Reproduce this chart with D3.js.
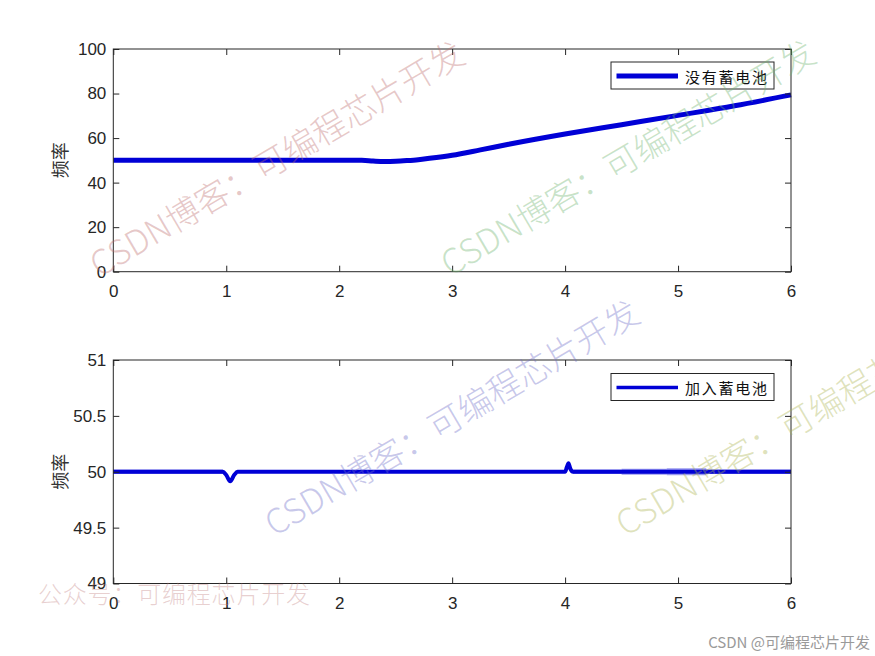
<!DOCTYPE html>
<html><head><meta charset="utf-8">
<script src="https://cdn.jsdelivr.net/npm/d3@7"></script>
<style>body{margin:0;background:#fff}svg{display:block}</style>
</head><body><svg id="c" width="875" height="656"></svg>
<script>
// ---- data ----
const xTicks = [0, 1, 2, 3, 4, 5, 6];
const topYTicks = [0, 20, 40, 60, 80, 100];
const bottomYTicks = [49, 49.5, 50, 50.5, 51];
const bottomYTickLabels = ["49", "49.5", "50", "50.5", "51"];
const yLabel = "频率";
const topLegend = "没有蓄电池";
const bottomLegend = "加入蓄电池";

// top: without battery
const topTime = [0, 2.2, 2.3, 2.4, 2.5, 2.6, 2.7, 2.8, 3.0, 3.25, 3.5, 4.0, 4.5, 5.0, 5.5, 6.0];
const topFreq = [50, 50, 49.7, 49.5, 49.6, 49.9, 50.3, 50.9, 52.3, 54.7, 57.2, 61.8, 66.0, 70.2, 74.5, 79.4];

// bottom: with battery (centre line)
const bottomTime = [0, 0.97, 1.0, 1.035, 1.07, 1.1, 4.0, 4.015, 4.03, 4.045, 4.07, 6.0];
const bottomFreq = [50, 50, 49.97, 49.915, 49.97, 50, 50, 50.04, 50.075, 50.03, 50, 50];
// bottom: ripple envelope segments (start, end, half-amplitude)
const rippleStart = [0, 4.07, 4.5, 4.9, 5.25];
const rippleEnd = [0.97, 4.5, 4.9, 5.25, 6.0];
const rippleAmp = [0.02, 0.02, 0.026, 0.032, 0.02];

// ---- layout ----
const svg = d3.select("#c");
const L = 113.3, R = 791;
const lineColor = "#0000d6";
const axisColor = "#262626";
const tickFont = "'Liberation Sans', Arial, sans-serif";
const cjkFont = "'Noto Sans CJK SC', sans-serif";

function panel(cfg) {
  const x = d3.scaleLinear().domain([0, 6]).range([L, R]);
  const y = d3.scaleLinear().domain(cfg.ydom).range([cfg.bottom, cfg.top]);
  const g = svg.append("g");

  // series
  if (cfg.ripple) {
    const area = d3.area().x(d => x(d[0])).y0(d => y(50 - d[1])).y1(d => y(50 + d[1]));
    cfg.ripple.forEach(r => {
      g.append("path").attr("d", area([[r[0], r[2]], [r[1], r[2]]]))
        .attr("fill", lineColor).attr("fill-opacity", 0.4);
    });
  }
  const line = d3.line().x((d, i) => x(cfg.t[i])).y(d => y(d)).curve(d3.curveMonotoneX);
  g.append("path").attr("d", line(cfg.v)).attr("fill", "none").attr("stroke", lineColor)
    .attr("stroke-width", cfg.lw).attr("stroke-linejoin", "round");

  // axes
  const ax = (gen, tr) => {
    const a = g.append("g").attr("transform", tr).call(gen);
    a.select(".domain").remove();
    a.selectAll("line").attr("stroke", axisColor);
    a.selectAll("text").attr("fill", axisColor).attr("font-family", tickFont).attr("font-size", 17);
    return a;
  };
  ax(d3.axisBottom(x).tickValues(xTicks).tickFormat(d3.format("d")).tickSize(-6).tickPadding(13.5), `translate(0,${cfg.bottom})`);
  ax(d3.axisTop(x).tickValues(xTicks).tickFormat("").tickSize(-6), `translate(0,${cfg.top})`);
  ax(d3.axisLeft(y).tickValues(cfg.yticks).tickFormat((d, i) => cfg.ylabels[i]).tickSize(-6).tickPadding(7), `translate(${L},0)`);
  ax(d3.axisRight(y).tickValues(cfg.yticks).tickFormat("").tickSize(-6), `translate(${R},0)`);

  g.append("rect").attr("x", L).attr("y", cfg.top).attr("width", R - L).attr("height", cfg.bottom - cfg.top)
    .attr("fill", "none").attr("stroke", axisColor).attr("stroke-width", 1);

  // y label
  const cy = (cfg.top + cfg.bottom) / 2;
  g.append("text").attr("transform", `translate(59,${cy}) rotate(-90)`)
    .attr("text-anchor", "middle").attr("dominant-baseline", "central")
    .attr("font-family", cjkFont).attr("font-size", 18).attr("fill", "#333").text(yLabel);

  // legend
  const lg = g.append("g");
  lg.append("rect").attr("x", 611).attr("y", cfg.legY).attr("width", 163).attr("height", 27)
    .attr("fill", "#fff").attr("stroke", axisColor).attr("stroke-width", 1);
  lg.append("line").attr("x1", 616.5).attr("x2", 678).attr("y1", cfg.legY + 14).attr("y2", cfg.legY + 14)
    .attr("stroke", lineColor).attr("stroke-width", cfg.legLw);
  lg.append("text").attr("x", 685).attr("y", cfg.legY + 14).attr("dominant-baseline", "central")
    .attr("font-family", cjkFont).attr("font-size", 15).attr("textLength", 82).attr("fill", "#111")
    .text(cfg.legend);
}

panel({ ydom: [0, 100], top: 49, bottom: 271.7, yticks: topYTicks, ylabels: topYTicks.map(String),
  t: topTime, v: topFreq, lw: 5, legY: 62, legLw: 5, legend: topLegend });
panel({ ydom: [49, 51], top: 360, bottom: 583.5, yticks: bottomYTicks, ylabels: bottomYTickLabels,
  t: bottomTime, v: bottomFreq, lw: 4, legY: 373.5, legLw: 3.5, legend: bottomLegend,
  ripple: rippleStart.map((s, i) => [s, rippleEnd[i], rippleAmp[i]]) });

// ---- watermarks ----
const wmText = "CSDN博客：可编程芯片开发";
const marks = [
  { cx: 276, cy: 157, c: "rgba(190,110,110,0.38)" },
  { cx: 627, cy: 156, c: "rgba(110,180,110,0.38)" },
  { cx: 451, cy: 416, c: "rgba(110,110,200,0.38)" },
  { cx: 802, cy: 416, c: "rgba(170,180,80,0.38)" }
];
marks.forEach(m => {
  svg.append("text").attr("transform", `translate(${m.cx},${m.cy}) rotate(-30.5)`)
    .attr("text-anchor", "middle").attr("dominant-baseline", "central")
    .attr("font-family", cjkFont).attr("font-weight", 300).attr("font-size", 34)
    .attr("fill", m.c).text(wmText);
});
svg.append("text").attr("x", 38).attr("y", 592).attr("dominant-baseline", "central")
  .attr("font-family", cjkFont).attr("font-weight", 300).attr("font-size", 24).attr("textLength", 272)
  .attr("fill", "rgba(190,120,120,0.35)").text("公众号：可编程芯片开发");
svg.append("text").attr("x", 870).attr("y", 641).attr("text-anchor", "end").attr("dominant-baseline", "central")
  .attr("font-family", cjkFont).attr("font-size", 15).attr("fill", "#9a9a9a")
  .attr("stroke", "#fff").attr("stroke-width", 0.6).attr("paint-order", "stroke")
  .text("CSDN @可编程芯片开发");
</script></body></html>
